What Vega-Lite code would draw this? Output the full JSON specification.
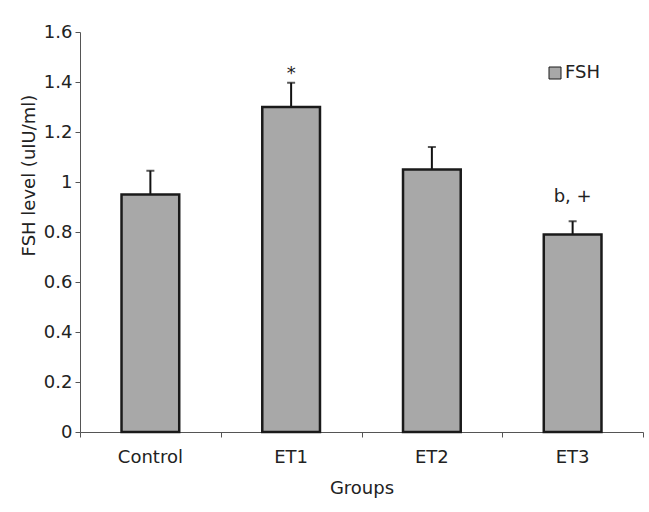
{
  "$schema": "https://vega.github.io/schema/vega-lite/v6.json",
  "autosize": {"type": "none"},
  "width": 563,
  "height": 400,
  "padding": {"left": 80, "top": 32, "right": 6, "bottom": 80},
  "background": "white",
  "config": {
    "view": {"stroke": null},
    "font": "DejaVu Sans",
    "axis": {
      "labelFont": "DejaVu Sans",
      "titleFont": "DejaVu Sans",
      "labelFontSize": 18,
      "titleFontSize": 18,
      "labelColor": "#222",
      "titleColor": "#222",
      "titleFontWeight": "normal",
      "domainColor": "#555",
      "tickColor": "#555",
      "grid": false
    },
    "legend": {"labelFont": "DejaVu Sans", "labelFontSize": 18, "labelColor": "#222"}
  },
  "data": {
    "values": [
      {"group": "Control", "mean": 0.95, "err": 1.045, "series": "FSH", "note": ""},
      {"group": "ET1", "mean": 1.30, "err": 1.397, "series": "FSH", "note": "*"},
      {"group": "ET2", "mean": 1.05, "err": 1.14, "series": "FSH", "note": ""},
      {"group": "ET3", "mean": 0.79, "err": 0.843, "series": "FSH", "note": "b, +"}
    ]
  },
  "resolve": {"axis": {"x": "independent"}},
  "layer": [
    {
      "mark": {"type": "rule", "stroke": "#111", "strokeWidth": 2},
      "encoding": {
        "x": {
          "field": "group",
          "type": "nominal",
          "sort": null,
          "axis": {
            "orient": "bottom",
            "title": null,
            "labels": false,
            "tickBand": "extent",
            "tickSize": 5,
            "domain": true
          }
        },
        "y": {"field": "mean", "type": "quantitative"},
        "y2": {"field": "err"}
      }
    },
    {
      "mark": {"type": "tick", "orient": "horizontal", "size": 8, "thickness": 2, "color": "#111"},
      "encoding": {
        "x": {"field": "group", "type": "nominal", "sort": null, "axis": null},
        "y": {"field": "err", "type": "quantitative"}
      }
    },
    {
      "mark": {"type": "bar", "width": {"band": 0.41}, "stroke": "#1a1a1a", "strokeWidth": 2.5},
      "encoding": {
        "x": {
          "field": "group",
          "type": "nominal",
          "sort": null,
          "scale": {"paddingInner": 0, "paddingOuter": 0},
          "axis": {
            "orient": "bottom",
            "title": "Groups",
            "labelAngle": 0,
            "ticks": false,
            "domain": false,
            "labelPadding": 16,
            "titlePadding": 13
          }
        },
        "y": {
          "field": "mean",
          "type": "quantitative",
          "scale": {"domain": [0, 1.6], "nice": false},
          "axis": {
            "title": "FSH level (uIU/ml)",
            "values": [0, 0.2, 0.4, 0.6, 0.8, 1, 1.2, 1.4, 1.6],
            "format": "~g",
            "tickSize": 5,
            "labelPadding": 3,
            "titleX": -51,
            "titleY": 143,
            "titleBaseline": "middle",
            "titleAlign": "center"
          }
        },
        "fill": {
          "field": "series",
          "type": "nominal",
          "scale": {"range": ["#a8a8a8"]},
          "legend": {
            "title": null,
            "orient": "none",
            "legendX": 466,
            "legendY": 32,
            "symbolType": "square",
            "symbolSize": 144,
            "symbolStrokeWidth": 1,
            "labelOffset": 1,
            "encode": {"symbols": {"update": {"fill": {"value": "#2a2a2a"}, "stroke": {"value": "#000"}}}}
          }
        }
      }
    },
    {
      "transform": [{"filter": "datum.note == '*'"}],
      "mark": {"type": "text", "fontSize": 18, "font": "DejaVu Sans", "color": "#222", "baseline": "alphabetic", "dy": -4},
      "encoding": {
        "x": {"field": "group", "type": "nominal", "sort": null, "axis": null},
        "y": {"field": "err", "type": "quantitative"},
        "text": {"field": "note"}
      }
    },
    {
      "transform": [{"filter": "datum.note == 'b, +'"}],
      "mark": {"type": "text", "fontSize": 18, "font": "DejaVu Sans", "color": "#222", "baseline": "alphabetic", "dy": -19},
      "encoding": {
        "x": {"field": "group", "type": "nominal", "sort": null, "axis": null},
        "y": {"field": "err", "type": "quantitative"},
        "text": {"field": "note"}
      }
    }
  ]
}
